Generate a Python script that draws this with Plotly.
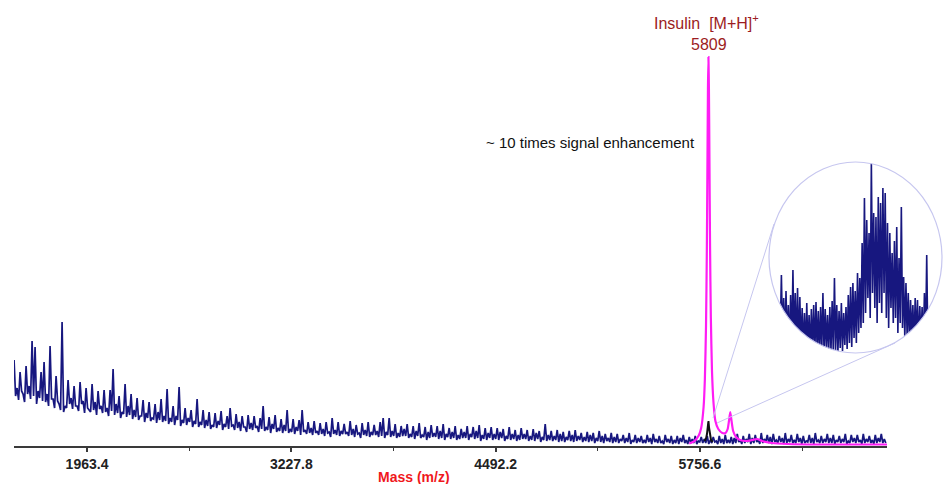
import plotly.graph_objects as go

W, H = 944, 484

# ---------------- data ----------------
# main (control) spectrum, blue: every ~18.57 m/z from 1512 a local high and,
# half a step later, a local low of the noise band
blue_start_mass = 1512.0
blue_mass_step = 18.57
blue_high = [
    86, 58, 74, 52, 80, 60, 105, 99, 55, 74,
    84, 52, 100, 47, 70, 42, 124, 40, 66, 48,
    60, 40, 64, 45, 58, 36, 62, 44, 55, 40,
    56, 38, 56, 77, 42, 50, 34, 62, 40, 52,
    36, 48, 30, 46, 33, 44, 28, 42, 34, 47,
    30, 57, 28, 40, 30, 59, 26, 38, 28, 36,
    25, 47, 24, 36, 26, 34, 21, 33, 25, 35,
    22, 30, 38, 21, 32, 24, 30, 19, 31, 23,
    30, 20, 28, 40, 19, 29, 22, 31, 18, 27,
    21, 36, 17, 27, 19, 26, 36, 16, 24, 18,
    25, 15, 23, 17, 24, 14, 28, 16, 24, 15,
    22, 14, 25, 17, 21, 13, 23, 16, 24, 14,
    21, 15, 24, 28, 14, 28, 15, 22, 13, 20,
    17, 22, 12, 20, 15, 23, 11, 19, 14, 21,
    13, 20, 15, 22, 12, 18, 14, 20, 11, 17,
    14, 20, 12, 19, 15, 21, 11, 18, 13, 19,
    12, 18, 14, 17, 10, 19, 12, 16, 11, 18,
    12, 16, 10, 17, 13, 15, 9, 22, 11, 15,
    10, 16, 12, 14, 9, 15, 11, 16, 10, 13,
    9, 14, 11, 13, 8, 15, 10, 12, 8, 13,
    9, 12, 7, 11, 8, 13, 6, 11, 8, 10,
    6, 11, 8, 12, 7, 10, 5, 11, 7, 10,
    6, 10, 8, 11, 6, 9, 7, 10, 5, 9,
    7, 10, 6, 9, 5, 10, 7, 11, 6, 9,
    8, 12, 6, 10, 7, 12, 8, 11, 6, 13,
    7, 11, 9, 12, 6, 10, 8, 13, 7, 11,
    6, 12, 8, 10, 5, 11, 8, 13, 6, 10,
    7, 12, 8, 11, 6, 10, 7, 12, 5, 11,
    8, 11, 6, 12, 7, 10, 6, 11, 8, 12, 7,
]
blue_low = [
    50, 46, 55, 44, 52, 47, 50, 42, 48, 45,
    44, 40, 47, 38, 45, 36, 34, 38, 42, 37,
    40, 35, 42, 33, 38, 34, 36, 31, 37, 33,
    34, 30, 35, 31, 33, 28, 32, 29, 31, 27,
    29, 26, 30, 24, 28, 25, 27, 23, 26, 24,
    25, 22, 24, 21, 26, 20, 23, 21, 24, 19,
    22, 19, 21, 18, 20, 17, 19, 18, 21, 16,
    19, 17, 20, 16, 18, 15, 19, 14, 17, 16,
    18, 14, 17, 15, 16, 13, 17, 14, 15, 13,
    15, 13, 14, 12, 15, 11, 14, 12, 13, 11,
    13, 11, 12, 10, 13, 9, 12, 11, 10, 12,
    12, 10, 11, 9, 12, 8, 11, 10, 9, 11,
    11, 9, 10, 8, 11, 9, 10, 8, 9, 10,
    10, 8, 9, 7, 10, 8, 9, 6, 8, 9,
    9, 7, 8, 6, 9, 7, 8, 6, 7, 8,
    8, 6, 9, 7, 8, 5, 7, 6, 8, 6,
    7, 6, 8, 5, 7, 6, 7, 5, 6, 7,
    7, 5, 6, 5, 7, 4, 6, 5, 6, 5,
    6, 4, 5, 4, 6, 5, 4, 5, 6, 4,
    5, 4, 5, 3, 5, 4, 3, 5, 4, 3,
    4, 3, 5, 3, 4, 2, 4, 3, 4, 3,
    3, 4, 2, 4, 3, 3, 2, 4, 3, 2,
    3, 2, 4, 3, 2, 3, 3, 2, 4, 3,
    3, 2, 3, 4, 2, 3, 2, 3, 3, 2,
    3, 4, 2, 3, 4, 2, 3, 4, 2, 3,
    4, 3, 2, 4, 3, 4, 2, 3, 4, 3,
    3, 4, 2, 3, 4, 3, 2, 4, 3, 3,
    4, 3, 3, 2, 4, 3, 4, 2, 3, 4,
    3, 4, 2, 3, 4, 3, 2, 3, 4, 3, 3,
]

# enhanced spectrum, magenta
pink_mass = [5690, 5720, 5749, 5764, 5779, 5787,
             5794, 5799, 5803, 5806, 5809, 5812, 5815, 5819, 5824, 5831,
             5840, 5852, 5870, 5895, 5915, 5928, 5936, 5944, 5952, 5962,
             5980, 6005, 6040, 6080, 6110, 6140, 6200, 6300, 6500, 6914]
pink_intensity = [2.5, 4.7, 10.5, 18, 39, 67,
                  120, 194, 286, 357, 389, 357, 290, 200, 128, 75,
                  44, 25, 17, 13, 13, 17, 25, 34, 25, 15,
                  9, 6, 5, 6, 7, 5, 3, 2, 1.5, 1.5]

# original insulin peak, black
black_mass = [5785, 5795, 5800, 5805, 5809, 5813, 5818, 5825, 5835]
black_intensity = [5, 8, 12, 20, 25, 18, 10, 6, 4]

# zoomed inset (sticks: top / bottom intensity), every 0.8 m/z from 5784
inset_start_mass = 5784.0
inset_mass_step = 0.8
inset_tops = [50, 78, 55, 62, 48, 58, 83, 60, 65, 56,
              45, 40, 50, 38, 44, 48, 51, 42, 46, 60,
              44, 38, 46, 52, 75, 48, 42, 50, 40, 46,
              58, 66, 70, 62, 80, 75, 110, 155, 133, 120,
              191, 140, 136, 156, 150, 165, 160, 130, 120, 100,
              112, 126, 95, 146, 76, 70, 60, 53, 48, 55,
              53, 47, 46, 60, 98, 40]
inset_bottoms = [20, 15, 10, 12, 5, 8, 10, 5, 3, 5,
                 2, 0, 2, 0, 4, 0, 3, 0, 2, 0,
                 4, 0, 2, 0, 3, 0, 5, 2, 8, 4,
                 10, 6, 15, 10, 20, 25, 30, 40, 55, 35,
                 60, 45, 30, 50, 40, 60, 35, 25, 45, 30,
                 35, 20, 30, 25, 15, 18, 10, 15, 8, 14,
                 6, 12, 5, 10, 8, 10]

tick_vals = [1963.4, 3227.8, 4492.2, 5756.6]
tick_text = ["1963.4", "3227.8", "4492.2", "5756.6"]
minor_tick_vals = [2595.6, 3860.0, 5124.4, 6388.8]

x_range = [1511.6, 6914.0]
y_range = [0, 446]

# ---------------- styles ----------------
NAVY = "#17177f"
PINK = "#ff1cf4"
FONT = "Liberation Sans, Arial, sans-serif"

fig = go.Figure()

bx, by = [], []
for i, (hi, lo) in enumerate(zip(blue_high, blue_low)):
    m = blue_start_mass + i * blue_mass_step
    bx += [m, m + blue_mass_step * 0.5]
    by += [hi, lo]
fig.add_trace(go.Scatter(x=bx, y=by, mode="lines",
                         line=dict(color=NAVY, width=1.7), showlegend=False,
                         hoverinfo="skip"))
fig.add_trace(go.Scatter(x=pink_mass, y=pink_intensity, mode="lines",
                         line=dict(color=PINK, width=2.2, shape="spline", smoothing=0.6),
                         showlegend=False, hoverinfo="skip"))
fig.add_trace(go.Scatter(x=black_mass, y=black_intensity, mode="lines",
                         line=dict(color="#111111", width=2), showlegend=False,
                         hoverinfo="skip"))

# inset zigzag
ix, iy = [], []
for k, (t, b) in enumerate(zip(inset_tops, inset_bottoms)):
    m = inset_start_mass + k * inset_mass_step
    ix += [m, m + inset_mass_step * 0.5]
    iy += [t, b]
fig.add_trace(go.Scatter(x=ix, y=iy, mode="lines", xaxis="x2", yaxis="y2",
                         line=dict(color=NAVY, width=1.6), showlegend=False,
                         hoverinfo="skip"))

# ---------------- geometry helpers (paper coords) ----------------
def px(x):
    return x / W

def py(y):
    return 1 - y / H

ex0, ex1, ey0, ey1 = 769, 942, 162, 353   # ellipse bbox in pixels
cx, cy = px((ex0 + ex1) / 2), py((ey0 + ey1) / 2)
rx, ry = (px(ex1) - px(ex0)) / 2, (py(ey0) - py(ey1)) / 2
kk = 0.5523
rect = (f"M {px(764)} {py(156)} L {px(944)} {py(156)} L {px(944)} {py(362)} "
        f"L {px(764)} {py(362)} Z ")
ell = (f"M {cx + rx} {cy} "
       f"C {cx + rx} {cy + kk * ry} {cx + kk * rx} {cy + ry} {cx} {cy + ry} "
       f"C {cx - kk * rx} {cy + ry} {cx - rx} {cy + kk * ry} {cx - rx} {cy} "
       f"C {cx - rx} {cy - kk * ry} {cx - kk * rx} {cy - ry} {cx} {cy - ry} "
       f"C {cx + kk * rx} {cy - ry} {cx + rx} {cy - kk * ry} {cx + rx} {cy} Z")

LAV = "#c6c6ef"
shapes = [
    dict(type="path", path=rect + ell, xref="paper", yref="paper",
         fillcolor="white", fillrule="evenodd", line=dict(width=0), layer="above"),
    dict(type="circle", xref="paper", yref="paper",
         x0=px(ex0), x1=px(ex1), y0=py(ey1), y1=py(ey0),
         line=dict(color=LAV, width=1.2), layer="above"),
    dict(type="line", xref="paper", yref="paper",
         x0=px(713), y0=py(418), x1=px(774), y1=py(224),
         line=dict(color=LAV, width=1), layer="above"),
    dict(type="line", xref="paper", yref="paper",
         x0=px(717), y0=py(423), x1=px(895), y1=py(343),
         line=dict(color=LAV, width=1), layer="above"),
]

annotations = [
    dict(text="Insulin  [M+H]<sup>+</sup>", x=px(706), y=py(22), xref="paper", yref="paper",
         showarrow=False, xanchor="center", yanchor="middle",
         font=dict(family=FONT, size=16, color="#9c1c22")),
    dict(text="5809", x=px(709), y=py(44), xref="paper", yref="paper",
         showarrow=False, xanchor="center", yanchor="middle",
         font=dict(family=FONT, size=16, color="#9c1c22")),
    dict(text="~ 10 times signal enhancement", x=px(590), y=py(143), xref="paper", yref="paper",
         showarrow=False, xanchor="center", yanchor="middle",
         font=dict(family=FONT, size=15, color="#111111")),
    dict(text="<b>Mass (m/z)</b>", x=px(414), y=py(477), xref="paper", yref="paper",
         showarrow=False, xanchor="center", yanchor="middle",
         font=dict(family=FONT, size=14, color="#f0181c")),
]

fig.update_layout(
    width=W, height=H,
    margin=dict(l=0, r=0, t=0, b=0),
    paper_bgcolor="white", plot_bgcolor="white",
    showlegend=False,
    xaxis=dict(domain=[px(14), px(887)], range=x_range, showgrid=False, zeroline=False,
               showline=True, linecolor="#3a3a3a", linewidth=2,
               ticks="outside", ticklen=4, tickwidth=1.5, tickcolor="#3a3a3a",
               tickmode="array", tickvals=tick_vals, ticktext=tick_text,
               tickfont=dict(family=FONT, size=14, color="#222222", weight="bold"),
               minor=dict(tickmode="array", tickvals=minor_tick_vals, ticks="outside",
                          ticklen=3, tickwidth=1.2, tickcolor="#3a3a3a"),
               automargin=False, fixedrange=True),
    yaxis=dict(domain=[38 / H, 1], range=y_range, visible=False, automargin=False),
    xaxis2=dict(domain=[px(ex0), px(ex1)], range=[5780.5, 5840.5], anchor="y2",
                visible=False),
    yaxis2=dict(domain=[py(ey1), py(ey0)], range=[0, 191], anchor="x2", visible=False),
    shapes=shapes,
    annotations=annotations,
)

fig.write_html("out.html")
